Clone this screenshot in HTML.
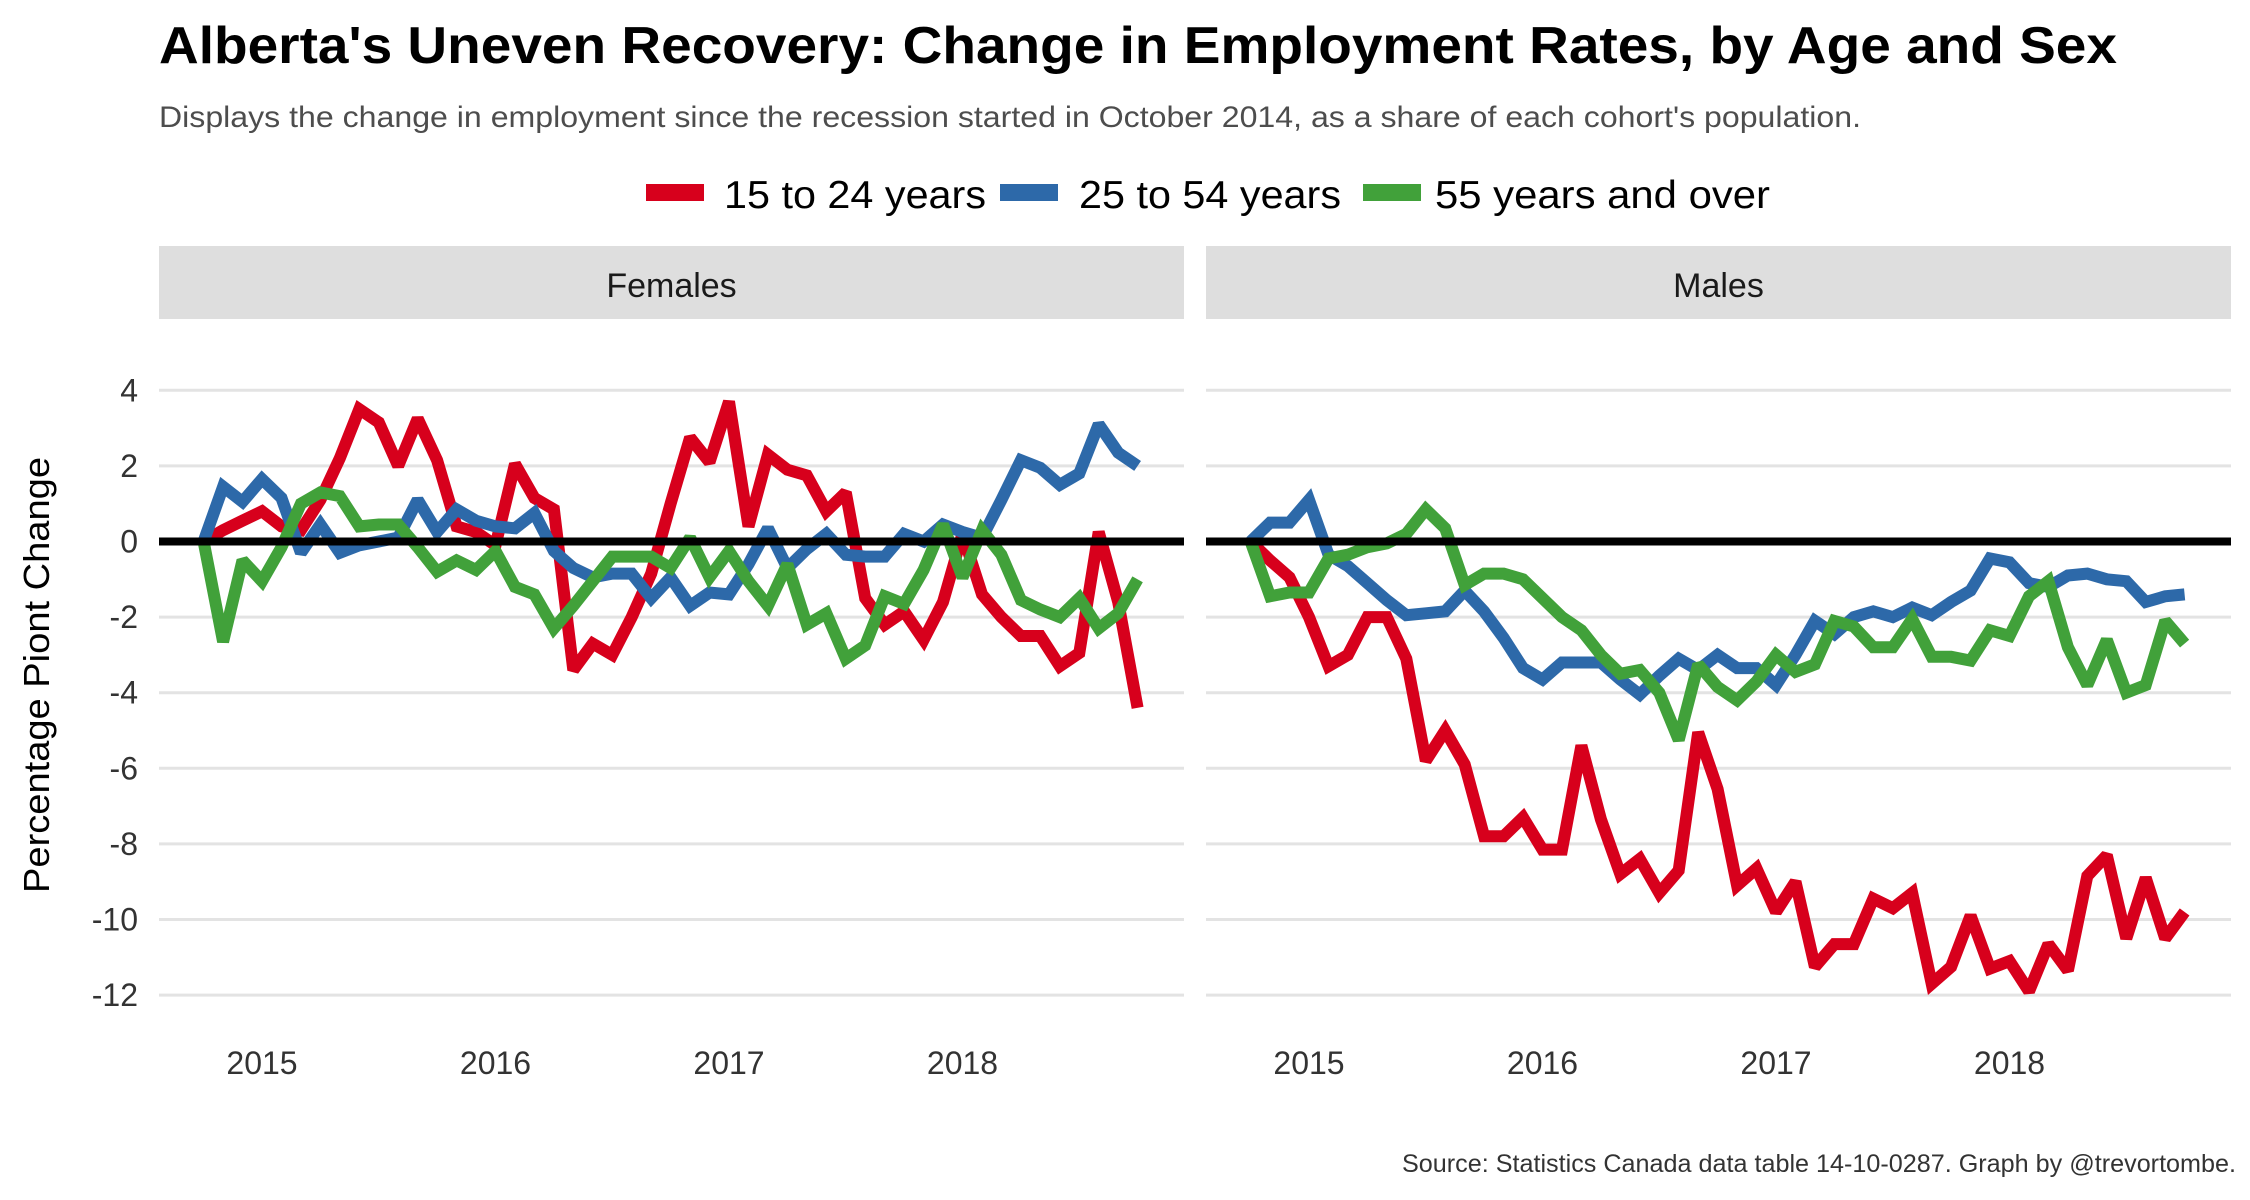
<!DOCTYPE html>
<html><head><meta charset="utf-8"><style>
html,body{margin:0;padding:0;background:#fff;}
svg{display:block;font-family:"Liberation Sans",Arial,sans-serif;}
</style></head><body>
<svg id="chart" width="2250" height="1200" viewBox="0 0 2250 1200">
<text x="159" y="63" font-size="52" font-weight="bold" fill="#000" textLength="1958" lengthAdjust="spacingAndGlyphs">Alberta's Uneven Recovery: Change in Employment Rates, by Age and Sex</text>
<text x="159" y="127" font-size="30" fill="#4d4d4d" textLength="1702" lengthAdjust="spacingAndGlyphs">Displays the change in employment since the recession started in October 2014, as a share of each cohort's population.</text>
<g>
<g><rect x="646" y="184" width="58" height="17" fill="#d7001c"/><text x="724" y="208" font-size="39" fill="#000" textLength="262" lengthAdjust="spacingAndGlyphs">15 to 24 years</text></g>
<g><rect x="1000" y="184" width="58" height="17" fill="#2d69a9"/><text x="1079" y="208" font-size="39" fill="#000" textLength="262" lengthAdjust="spacingAndGlyphs">25 to 54 years</text></g>
<g><rect x="1363" y="184" width="58" height="17" fill="#41a13a"/><text x="1435" y="208" font-size="39" fill="#000" textLength="335" lengthAdjust="spacingAndGlyphs">55 years and over</text></g>
</g>
<text transform="translate(49,675) rotate(-90)" text-anchor="middle" font-size="36" fill="#000" textLength="436" lengthAdjust="spacingAndGlyphs">Percentage Piont Change</text>
<text x="2236" y="1172" text-anchor="end" font-size="25" fill="#333" textLength="834" lengthAdjust="spacingAndGlyphs">Source: Statistics Canada data table 14-10-0287. Graph by @trevortombe.</text>
<g id="panels"></g>
</svg>
<script>
const years = [2015, 2016, 2017, 2018];
const yTicks = [4, 2, 0, -2, -4, -6, -8, -10, -12];
const seriesNames = ["15 to 24 years", "25 to 54 years", "55 years and over"];
const panelNames = ["Females", "Males"];
const femYouth = [0,0.3,0.55,0.8,0.4,0.3,1.1,2.2,3.5,3.15,2.0,3.25,2.15,0.4,0.25,-0.1,2.05,1.15,0.85,-3.4,-2.7,-3.0,-2.0,-0.85,1.0,2.75,2.1,3.7,0.4,2.3,1.9,1.75,0.8,1.3,-1.5,-2.2,-1.85,-2.6,-1.6,0.2,-1.4,-2.0,-2.5,-2.5,-3.3,-2.95,0.25,-1.6,-4.4];
const femCore = [0,1.45,1.05,1.65,1.15,-0.3,0.45,-0.3,-0.1,0.0,0.1,1.1,0.25,0.85,0.55,0.4,0.35,0.75,-0.25,-0.7,-0.95,-0.85,-0.85,-1.5,-0.95,-1.7,-1.35,-1.4,-0.6,0.35,-0.7,-0.2,0.2,-0.35,-0.4,-0.4,0.2,0.0,0.45,0.25,0.1,1.1,2.15,1.95,1.5,1.8,3.1,2.35,2.0];
const femOld = [0,-2.65,-0.5,-1.05,-0.15,1.0,1.3,1.2,0.4,0.45,0.45,-0.15,-0.8,-0.5,-0.75,-0.25,-1.2,-1.4,-2.3,-1.7,-1.05,-0.4,-0.4,-0.4,-0.7,0.1,-0.95,-0.25,-1.05,-1.7,-0.6,-2.2,-1.9,-3.1,-2.75,-1.45,-1.65,-0.75,0.45,-0.95,0.3,-0.35,-1.55,-1.8,-2.0,-1.5,-2.3,-1.9,-1.0];
const maleYouth = [0,-0.5,-0.95,-2.0,-3.3,-3.0,-2.0,-2.0,-3.1,-5.8,-5.0,-5.9,-7.8,-7.8,-7.3,-8.15,-8.15,-5.4,-7.35,-8.8,-8.4,-9.3,-8.7,-5.05,-6.55,-9.1,-8.65,-9.8,-9.0,-11.25,-10.65,-10.65,-9.45,-9.7,-9.3,-11.7,-11.25,-9.9,-11.3,-11.1,-11.9,-10.65,-11.35,-8.85,-8.3,-10.5,-8.9,-10.5,-9.8];
const maleCore = [0,0.5,0.5,1.1,-0.35,-0.65,-1.1,-1.55,-1.95,-1.9,-1.85,-1.3,-1.85,-2.55,-3.35,-3.65,-3.2,-3.2,-3.2,-3.65,-4.05,-3.55,-3.1,-3.4,-3.0,-3.35,-3.35,-3.8,-3.0,-2.1,-2.45,-2.0,-1.85,-2.0,-1.75,-1.95,-1.6,-1.3,-0.45,-0.55,-1.1,-1.2,-0.9,-0.85,-1.0,-1.05,-1.6,-1.45,-1.4];
const maleOld = [0,-1.45,-1.35,-1.35,-0.45,-0.35,-0.15,-0.05,0.2,0.85,0.35,-1.15,-0.85,-0.85,-1.0,-1.5,-2.0,-2.35,-3.0,-3.5,-3.4,-4.0,-5.25,-3.25,-3.85,-4.2,-3.7,-3.0,-3.45,-3.25,-2.1,-2.25,-2.8,-2.8,-2.05,-3.05,-3.05,-3.15,-2.35,-2.5,-1.45,-1.05,-2.8,-3.8,-2.6,-4.0,-3.8,-2.1,-2.7];

const NS = "http://www.w3.org/2000/svg";
const colors = ["#d7001c", "#2d69a9", "#41a13a"];
const panelData = [[femYouth, femCore, femOld], [maleYouth, maleCore, maleOld]];
const panelLeft = [159, 1206];
const panelWidth = 1025;
const startYear = 2014.75;
function yScale(v) { return 541.5 - v * 37.8; }
function xScale(p, t) { return panelLeft[p] + 103 + (t - 2015) * 233.5; }
const root = document.getElementById("panels");
function mk(tag, attrs) { const e = document.createElementNS(NS, tag); for (const k in attrs) e.setAttribute(k, attrs[k]); return e; }

panelNames.forEach((name, p) => {
  const g = mk("g", {});
  
  
  root.appendChild(g);
  const strip = mk("rect", {x: panelLeft[p], y: 246, width: panelWidth, height: 73, fill: "#dedede"});
  
  
  g.appendChild(strip);
  const st = mk("text", {x: panelLeft[p] + panelWidth / 2, y: 297, "text-anchor": "middle", "font-size": 34, fill: "#1a1a1a"});
  st.textContent = name;
  
  
  g.appendChild(st);
  yTicks.forEach(v => {
    const gl = mk("line", {x1: panelLeft[p], x2: panelLeft[p] + panelWidth, y1: yScale(v), y2: yScale(v), stroke: "#e3e3e3", "stroke-width": 3});
    
    
    g.appendChild(gl);
    if (p === 0) {
      const tl = mk("text", {x: 138, y: yScale(v) + 11, "text-anchor": "end", "font-size": 32, fill: "#333"});
      tl.textContent = v;
      
      
      g.appendChild(tl);
    }
  });
  years.forEach(yr => {
    const xl = mk("text", {x: xScale(p, yr), y: 1074, "text-anchor": "middle", "font-size": 32, fill: "#333"});
    xl.textContent = yr;
    
    
    g.appendChild(xl);
  });
  panelData[p].forEach((vals, s) => {
    const pts = vals.map((v, i) => xScale(p, startYear + i / 12).toFixed(1) + "," + yScale(v).toFixed(1)).join(" ");
    const pl = mk("polyline", {points: pts, fill: "none", stroke: colors[s], "stroke-width": 12, "stroke-linejoin": "miter", "stroke-miterlimit": 2});
    
    
    g.appendChild(pl);
  });
  const zl = mk("line", {x1: panelLeft[p], x2: panelLeft[p] + panelWidth, y1: yScale(0), y2: yScale(0), stroke: "#000", "stroke-width": 8});
  
  
  g.appendChild(zl);
});
</script>
</body></html>
